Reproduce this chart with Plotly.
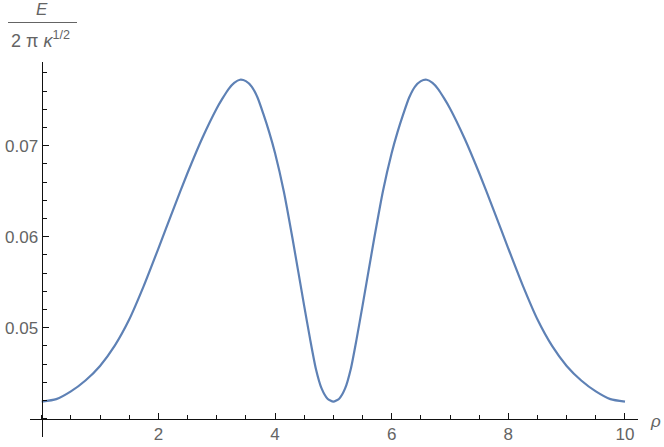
import plotly.graph_objects as go

# Data
rho = [0.0, 0.25, 0.5, 0.75, 1.0, 1.25, 1.5, 1.75, 2.0, 2.25, 2.5, 2.75, 3.0, 3.1, 3.2, 3.3, 3.4, 3.5, 3.6,
       3.7, 3.8, 3.9, 4.0, 4.15, 4.3, 4.5, 4.6, 4.7, 4.8, 4.9, 5.0,
       5.1, 5.2, 5.3, 5.4, 5.5, 5.7, 5.85, 6.0, 6.1, 6.2, 6.3, 6.4, 6.5, 6.6, 6.7, 6.8, 6.9, 7.0,
       7.25, 7.5, 7.75, 8.0, 8.25, 8.5, 8.75, 9.0, 9.25, 9.5, 9.75, 10.0]
energy = [0.04187, 0.04215, 0.04300, 0.04420, 0.04580, 0.04800, 0.05090, 0.05460, 0.05870,
          0.06290, 0.06700, 0.07080, 0.07410, 0.07520, 0.07620, 0.07690, 0.07725, 0.07710, 0.07650,
          0.07530, 0.07350, 0.07150, 0.06920, 0.06500, 0.05980, 0.05240, 0.04880, 0.04550, 0.04330,
          0.04220, 0.04187,
          0.04220, 0.04330, 0.04550, 0.04880, 0.05240, 0.05980, 0.06500, 0.06920, 0.07150, 0.07350,
          0.07530, 0.07650, 0.07710, 0.07725, 0.07690, 0.07620, 0.07520, 0.07410,
          0.07080, 0.06700, 0.06290, 0.05870, 0.05460, 0.05090, 0.04800, 0.04580, 0.04420,
          0.04300, 0.04215, 0.04187]

x_tick_vals = [2, 4, 6, 8, 10]
y_tick_vals = [0.05, 0.06, 0.07]
y_tick_text = ["0.05", "0.06", "0.07"]

W, H = 664, 447
L, R, T, B = 30, 26, 62, 10
XR = [-0.2006, 10.223]
YR = [0.03799, 0.07920]
X_CROSS = 0.0
Y_CROSS = 0.040

pw = W - L - R
ph = H - T - B


def px2paper(px, py):
    return (px - L) / pw, 1 - (py - T) / ph


fig = go.Figure()
fig.add_trace(go.Scatter(x=rho, y=energy, mode="lines",
                         line=dict(color="#5E81B5", width=2.2, shape="spline", smoothing=0.6),
                         hoverinfo="skip", showlegend=False))

tick_font = dict(family="Liberation Sans, Arial, sans-serif", size=17, color="#646464")
axis_common = dict(showgrid=False, zeroline=False, showline=True, linecolor="#111111", linewidth=1.3,
                   ticks="inside", tickcolor="#111111", tickwidth=1, tickfont=tick_font,
                   automargin=False)

fig.update_layout(
    width=W, height=H,
    margin=dict(l=L, r=R, t=T, b=B, pad=0, autoexpand=False),
    paper_bgcolor="white", plot_bgcolor="white",
    xaxis=dict(range=XR, tickmode="array", tickvals=x_tick_vals, ticklen=6,
               anchor="free", position=(Y_CROSS - YR[0]) / (YR[1] - YR[0]),
               minor=dict(tickmode="linear", tick0=0, dtick=0.5, ticklen=4, ticks="inside",
                          tickcolor="#111111", tickwidth=1),
               **axis_common),
    yaxis=dict(range=YR, tickmode="array", tickvals=y_tick_vals, ticktext=y_tick_text, ticklen=6,
               anchor="free", position=(X_CROSS - XR[0]) / (XR[1] - XR[0]),
               minor=dict(tickmode="linear", tick0=0.04, dtick=0.002, ticklen=4, ticks="inside",
                          tickcolor="#111111", tickwidth=1),
               **axis_common),
)

label_font = dict(family="Liberation Sans, Arial, sans-serif", size=17, color="#646464")

# rho label at right end of x axis
ax, ay = px2paper(655, 421)
fig.add_annotation(x=ax, y=ay, xref="paper", yref="paper", text="<i>ρ</i>", showarrow=False,
                   font=label_font, xanchor="center", yanchor="middle")

# fraction label on y axis
ex, ey = px2paper(42, 10)
fig.add_annotation(x=ex, y=ey, xref="paper", yref="paper", text="<i>E</i>", showarrow=False,
                   font=dict(family="Liberation Sans, Arial, sans-serif", size=17, color="#646464"),
                   xanchor="center", yanchor="middle")
dx, dy = px2paper(40, 39)
fig.add_annotation(x=dx, y=dy, xref="paper", yref="paper",
                   text="2 π <i>κ</i><sup>1/2</sup>", showarrow=False,
                   font=dict(family="Liberation Sans, Arial, sans-serif", size=18, color="#646464"),
                   xanchor="center", yanchor="middle")
lx0, ly = px2paper(8, 22.5)
lx1, _ = px2paper(77, 22.5)
fig.add_shape(type="line", xref="paper", yref="paper", x0=lx0, x1=lx1, y0=ly, y1=ly,
              line=dict(color="#646464", width=1.2))

fig.write_html("out.html", config={"displayModeBar": False},
               post_script="document.body.style.margin='0';document.body.style.padding='0';")
